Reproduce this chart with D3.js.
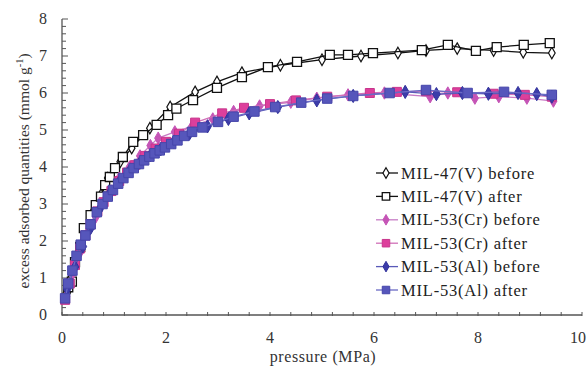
<!DOCTYPE html>
<html><head><meta charset="utf-8">
<script src="https://cdn.jsdelivr.net/npm/d3@7"></script>
<style>body{margin:0;background:#fff}svg{display:block}text{font-family:"Liberation Serif","Times New Roman",serif}</style>
</head><body>
<script>
const seriesNames = ["MIL-47(V) before","MIL-47(V) after","MIL-53(Cr) before","MIL-53(Cr) after","MIL-53(Al) before","MIL-53(Al) after"];
const xTicks = [0,2,4,6,8,10];
const yTicks = [0,1,2,3,4,5,6,7,8];

const v47beforeP = [0.1,0.15,0.3,0.45,0.6,0.75,0.88,1.12,1.34,1.69,2.08,2.56,2.98,3.46,4.2,5.0,5.75,6.46,7.0,7.6,8.3,8.87,9.42];
const v47beforeQ = [0.6,0.95,1.6,2.2,2.8,3.25,3.7,4.14,4.51,5.05,5.62,6.03,6.3,6.55,6.75,6.9,7.0,7.08,7.15,7.2,7.15,7.1,7.08];
const v47afterP = [0.12,0.19,0.25,0.35,0.42,0.55,0.65,0.75,0.83,0.92,1.02,1.17,1.37,1.56,1.82,2.04,2.2,2.52,2.98,3.46,3.96,4.52,5.15,5.5,5.98,6.92,7.42,7.96,8.36,8.88,9.38];
const v47afterQ = [0.75,0.9,1.43,1.84,2.35,2.7,2.97,3.2,3.51,3.73,3.97,4.27,4.68,4.86,5.14,5.4,5.58,5.81,6.14,6.43,6.7,6.84,7.03,7.03,7.08,7.16,7.3,7.14,7.24,7.3,7.35];
const crBeforeP = [0.08,0.2,0.35,0.5,0.65,0.8,0.95,1.1,1.3,1.5,1.7,1.85,2.17,2.5,2.9,3.3,3.8,4.4,4.9,5.5,6.2,7.08,7.42,7.94,8.4,8.94,9.45];
const crBeforeQ = [0.5,1.1,1.7,2.25,2.65,3.05,3.35,3.7,4.0,4.3,4.58,4.78,4.95,5.1,5.3,5.5,5.65,5.75,5.86,5.95,6.0,5.9,6.0,5.86,5.9,5.86,5.78];
const crAfterP = [0.06,0.15,0.25,0.35,0.45,0.55,0.68,0.8,0.95,1.1,1.25,1.4,1.6,1.8,2.0,2.25,2.56,3.08,3.5,4.0,4.5,5.1,5.92,6.44,7.0,7.6,8.3,8.9,9.42];
const crAfterQ = [0.41,0.85,1.35,1.8,2.15,2.45,2.8,3.05,3.35,3.62,3.85,4.05,4.3,4.5,4.68,4.9,5.2,5.45,5.6,5.7,5.8,5.9,6.0,6.03,6.05,6.02,5.98,5.95,5.9];
const alBeforeP = [0.1,0.25,0.4,0.55,0.72,0.9,1.1,1.3,1.5,1.7,1.9,2.15,2.45,2.8,3.2,3.6,4.15,4.9,5.6,6.6,7.2,7.7,8.2,8.77,9.13,9.42];
const alBeforeQ = [0.7,1.3,1.85,2.35,2.85,3.25,3.6,3.9,4.12,4.32,4.48,4.68,4.9,5.1,5.3,5.45,5.62,5.8,5.92,6.03,5.97,6.0,5.98,6.0,5.97,5.9];
const alAfterP = [0.06,0.12,0.2,0.28,0.36,0.45,0.55,0.67,0.78,0.88,0.98,1.08,1.18,1.28,1.38,1.48,1.58,1.68,1.78,1.88,1.98,2.1,2.22,2.35,2.5,2.7,3.0,3.3,3.7,4.1,4.6,5.1,5.6,6.3,7.0,7.8,8.5,9.42];
const alAfterQ = [0.45,0.85,1.2,1.6,1.9,2.15,2.45,2.78,3.0,3.2,3.38,3.55,3.7,3.84,3.97,4.08,4.18,4.28,4.37,4.45,4.53,4.62,4.72,4.84,4.95,5.07,5.22,5.36,5.5,5.62,5.74,5.85,5.92,6.0,6.08,6.0,6.03,5.95];

const styles = [
  {sym:"diamond", fill:"#fff", stroke:"#111", line:"#111", size:6.5, sw:1.2},
  {sym:"square", fill:"#fff", stroke:"#111", line:"#111", size:9, sw:1.3},
  {sym:"diamond", fill:"#c554b6", stroke:"#c554b6", line:"#c77cc6", size:7, sw:1},
  {sym:"square", fill:"#dd3f9c", stroke:"#c8358c", line:"#d070b8", size:9, sw:1},
  {sym:"diamond", fill:"#3c3caa", stroke:"#33339c", line:"#5a5ab8", size:7.5, sw:1},
  {sym:"square", fill:"#5656bb", stroke:"#4646aa", line:"#6a6ac4", size:9.5, sw:1}
];
const dataSets = [
  [v47beforeP,v47beforeQ],[v47afterP,v47afterQ],[crBeforeP,crBeforeQ],
  [crAfterP,crAfterQ],[alBeforeP,alBeforeQ],[alAfterP,alAfterQ]
];

const W=587,H=366;
const svg = d3.select("body").append("svg").attr("width",W).attr("height",H);
const x = d3.scaleLinear().domain([0,10]).range([62,582]);
const y = d3.scaleLinear().domain([0,8]).range([315,19]);
const axisCol="#555";

// y axis
svg.append("line").attr("x1",x(0)).attr("x2",x(0)).attr("y1",y(0)).attr("y2",y(8)).attr("stroke",axisCol).attr("stroke-width",1.3);
const yMinor = d3.range(0,8.01,0.2);
svg.selectAll(".ym").data(yMinor).enter().append("line")
  .attr("x1",x(0)).attr("x2",d=>x(0)+(Math.abs(d-Math.round(d))<1e-6?6:4))
  .attr("y1",d=>y(d)).attr("y2",d=>y(d)).attr("stroke",axisCol).attr("stroke-width",1);
svg.selectAll(".yl").data(yTicks).enter().append("text")
  .attr("x",x(0)-19).attr("y",d=>y(d)+5).attr("text-anchor","middle")
  .attr("font-size",16).attr("fill","#333").text(d=>d);

// x axis
svg.append("line").attr("x1",x(0)).attr("x2",x(10)).attr("y1",y(0)).attr("y2",y(0)).attr("stroke",axisCol).attr("stroke-width",1.3);
const xMinor = d3.range(0,10.01,0.4);
svg.selectAll(".xm").data(xMinor).enter().append("line")
  .attr("x1",d=>x(d)).attr("x2",d=>x(d)).attr("y1",y(0)-3).attr("y2",y(0)+1)
  .attr("stroke",axisCol).attr("stroke-width",1);
svg.selectAll(".xl").data(xTicks).enter().append("text")
  .attr("x",d=>d===10?586:x(d)).attr("y",343).attr("text-anchor",d=>d===10?"end":"middle")
  .attr("font-size",16).attr("fill","#333").text(d=>d);

svg.append("text").attr("x",323).attr("y",362).attr("text-anchor","middle").attr("font-size",16)
  .attr("letter-spacing",0.6).attr("fill","#333").text("pressure (MPa)");
const yl = svg.append("text").attr("transform","translate(29,171) rotate(-90)").attr("text-anchor","middle").attr("font-size",15.5).attr("fill","#333");
yl.append("tspan").text("excess adsorbed quantities (mmol g");
yl.append("tspan").attr("dy",-6).attr("font-size",10.5).text("-1");
yl.append("tspan").attr("dy",6).text(")");

function sym(st){
  return d3.symbol().type(st.sym==="square"?d3.symbolSquare:d3.symbolDiamond)
    .size(st.sym==="square"?st.size*st.size:st.size*st.size*0.9)();
}

const line = d3.line().x(d=>x(d[0])).y(d=>y(d[1]));
dataSets.forEach((ds,i)=>{
  const st=styles[i];
  const pts = ds[0].map((p,j)=>[p,ds[1][j]]);
  const g = svg.append("g");
  g.append("path").datum(pts).attr("d",line).attr("fill","none").attr("stroke",st.line).attr("stroke-width",1.3);
  g.selectAll("path.m").data(pts).enter().append("path").attr("class","m")
    .attr("d",sym(st)).attr("transform",d=>`translate(${x(d[0])},${y(d[1])})`)
    .attr("fill",st.fill).attr("stroke",st.stroke).attr("stroke-width",st.sw);
});

// legend
const legY0=173, legDy=23.4;
seriesNames.forEach((n,i)=>{
  const st=styles[i];
  const yy=legY0+i*legDy;
  svg.append("line").attr("x1",376).attr("x2",398).attr("y1",yy).attr("y2",yy).attr("stroke",st.line).attr("stroke-width",1.3);
  const s = {...st, size: st.sym==="square"?7.5:6};
  svg.append("path").attr("d",sym(s)).attr("transform",`translate(386,${yy})`).attr("fill",st.fill).attr("stroke",st.stroke).attr("stroke-width",st.sw);
  svg.append("text").attr("x",401).attr("y",yy+5.5).attr("font-size",16.5).attr("letter-spacing",0.8).attr("fill","#222").text(n);
});
</script>
</body></html>
